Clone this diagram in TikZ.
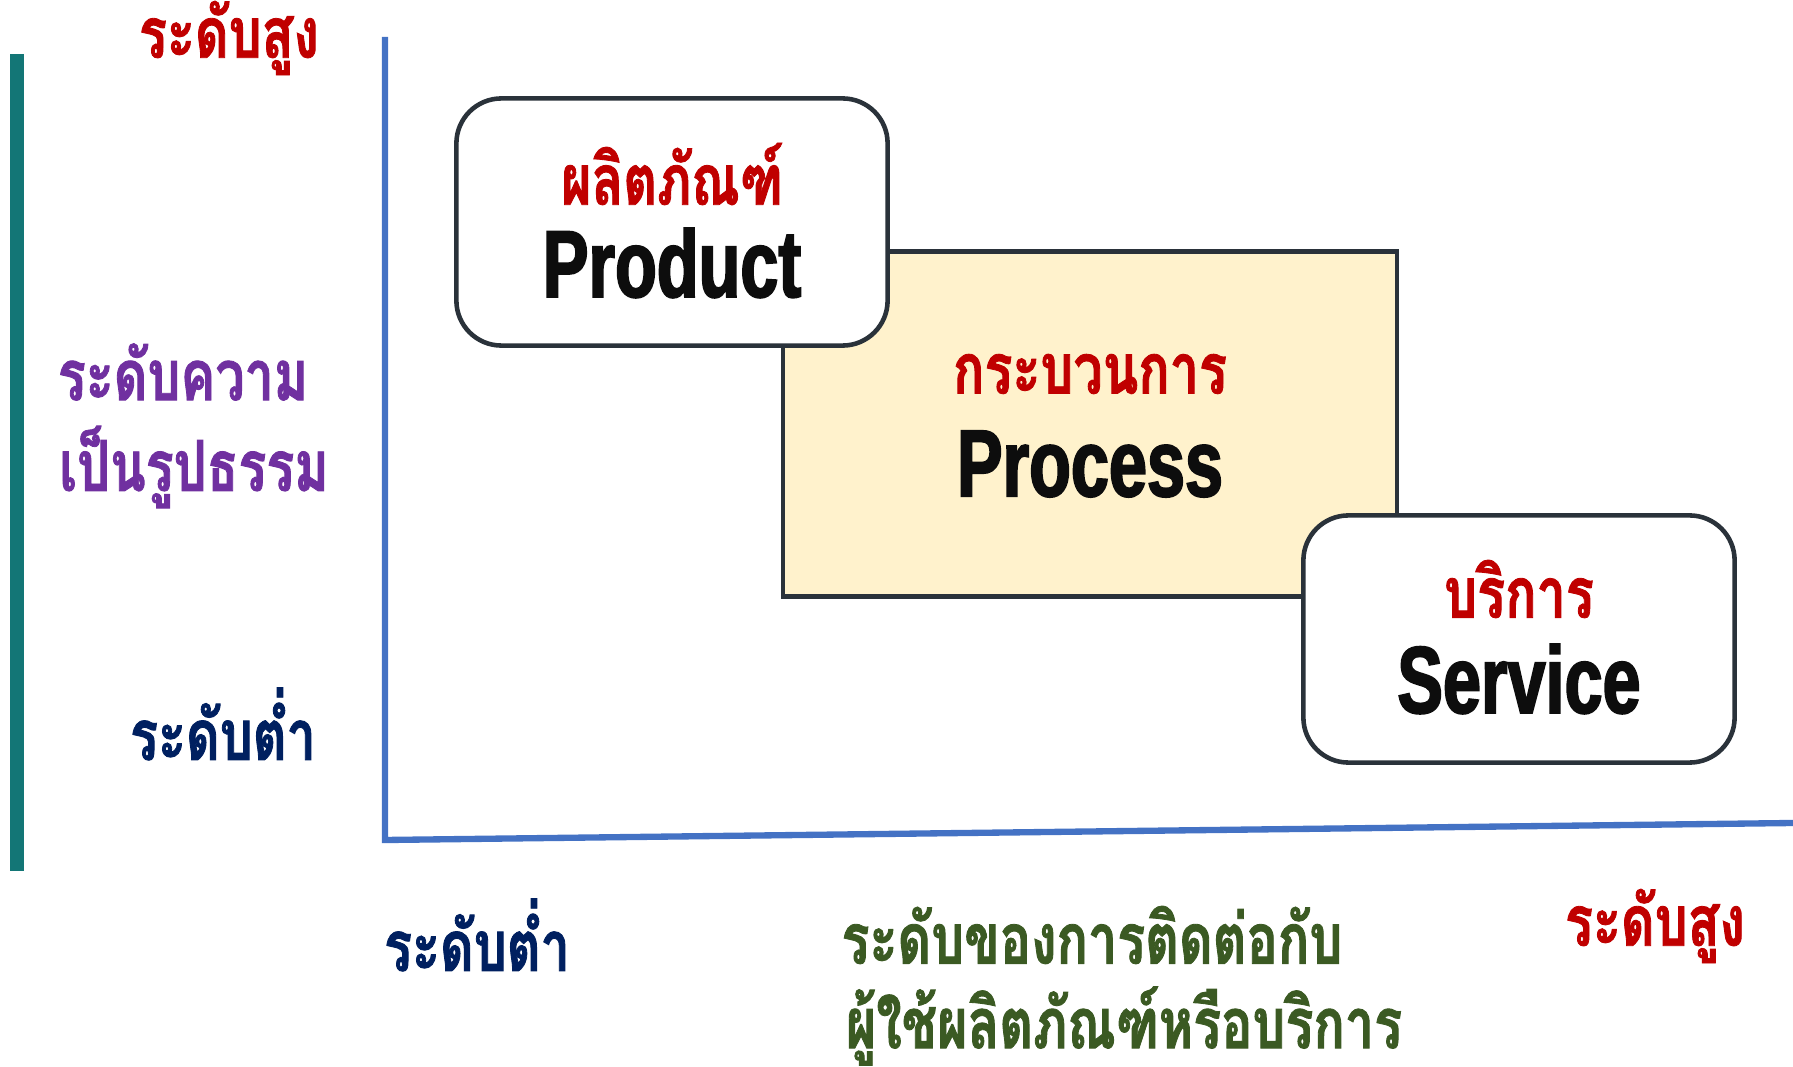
\documentclass[tikz,border=0pt]{standalone}
\usepackage{fontspec}
\setmainfont{Liberation Sans}
\newfontfamily\thaifont[Script=Thai,FakeStretch=0.74,FakeBold=1.2]{Loma}
\newfontfamily\engfont[FakeStretch=0.72,FakeBold=2]{Liberation Sans}
\usetikzlibrary{positioning}
\definecolor{redlvl}{HTML}{C00000}
\definecolor{purplvl}{HTML}{7030A0}
\definecolor{navylvl}{HTML}{002060}
\definecolor{greenlvl}{HTML}{3B5A23}
\definecolor{tealbar}{HTML}{137676}
\definecolor{axisblue}{HTML}{4472C4}
\definecolor{proccream}{HTML}{FFF2CC}
\definecolor{boxedge}{HTML}{2A323A}
\begin{document}
\begin{tikzpicture}[x=0.01cm,y=-0.01cm,every node/.style={inner sep=0pt},
  box/.style={draw=boxedge,line width=1.3pt,rounded corners=0.45cm,fill=white,
    minimum width=4.31cm,minimum height=2.47cm},
  thai/.style={font=\thaifont\bfseries\fontsize{20}{24}\selectfont},
  eng/.style={font=\engfont\bfseries\fontsize{27}{30}\selectfont,text=black!95}]
  \useasboundingbox (0,0) rectangle (1793,1067);
  % Left bar and axes
  \draw[tealbar,line width=4pt] (17,54) -- (17,871);
  \coordinate (ytop) at (385,37);
  \coordinate (origin) at (385,840);
  \coordinate (xend) at (1793,823);
  \draw[axisblue,line width=1.8pt] (ytop) -- (origin) -- (xend);
  % Process
  \node (proc) [draw=boxedge,line width=1.3pt,fill=proccream,
    minimum width=6.14cm,minimum height=3.45cm] at (1090,424) {};
  \node (procth) [thai,text=redlvl] at (1090,374) {กระบวนการ};
  \node (proceng) [eng] at (1090,464) {Process};
  % Product
  \node (prod) [box] at (672,222) {};
  \node (prodth) [thai,text=redlvl] at (672,174) {ผลิตภัณฑ์};
  \node (prodeng) [eng] at (672,263) {Product};
  % Service
  \node (serv) [box] at (1519,639) {};
  \node (servth) [thai,text=redlvl] at (1519,589) {บริการ};
  \node (serveng) [eng] at (1519,679) {Service};
  % Vertical axis labels
  \node (yhigh) [thai,text=redlvl] at (229,38) {ระดับสูง};
  \node (ylab1) [thai,text=purplvl] at (183,372) {ระดับความ};
  \node (ylab2) [thai,text=purplvl] at (194,467) {เป็นรูปธรรม};
  \node (ylow) [thai,text=navylvl] at (223,724) {ระดับต่ำ};
  % Horizontal axis labels
  \node (xlow) [thai,text=navylvl] at (477,935) {ระดับต่ำ};
  \node (xlab1) [thai,text=greenlvl] at (1092,935) {ระดับของการติดต่อกับ};
  \node (xlab2) [thai,text=greenlvl] at (1124,1026) {ผู้ใช้ผลิตภัณฑ์หรือบริการ};
  \node (xhigh) [thai,text=redlvl] at (1655,926) {ระดับสูง};
\end{tikzpicture}
\end{document}
